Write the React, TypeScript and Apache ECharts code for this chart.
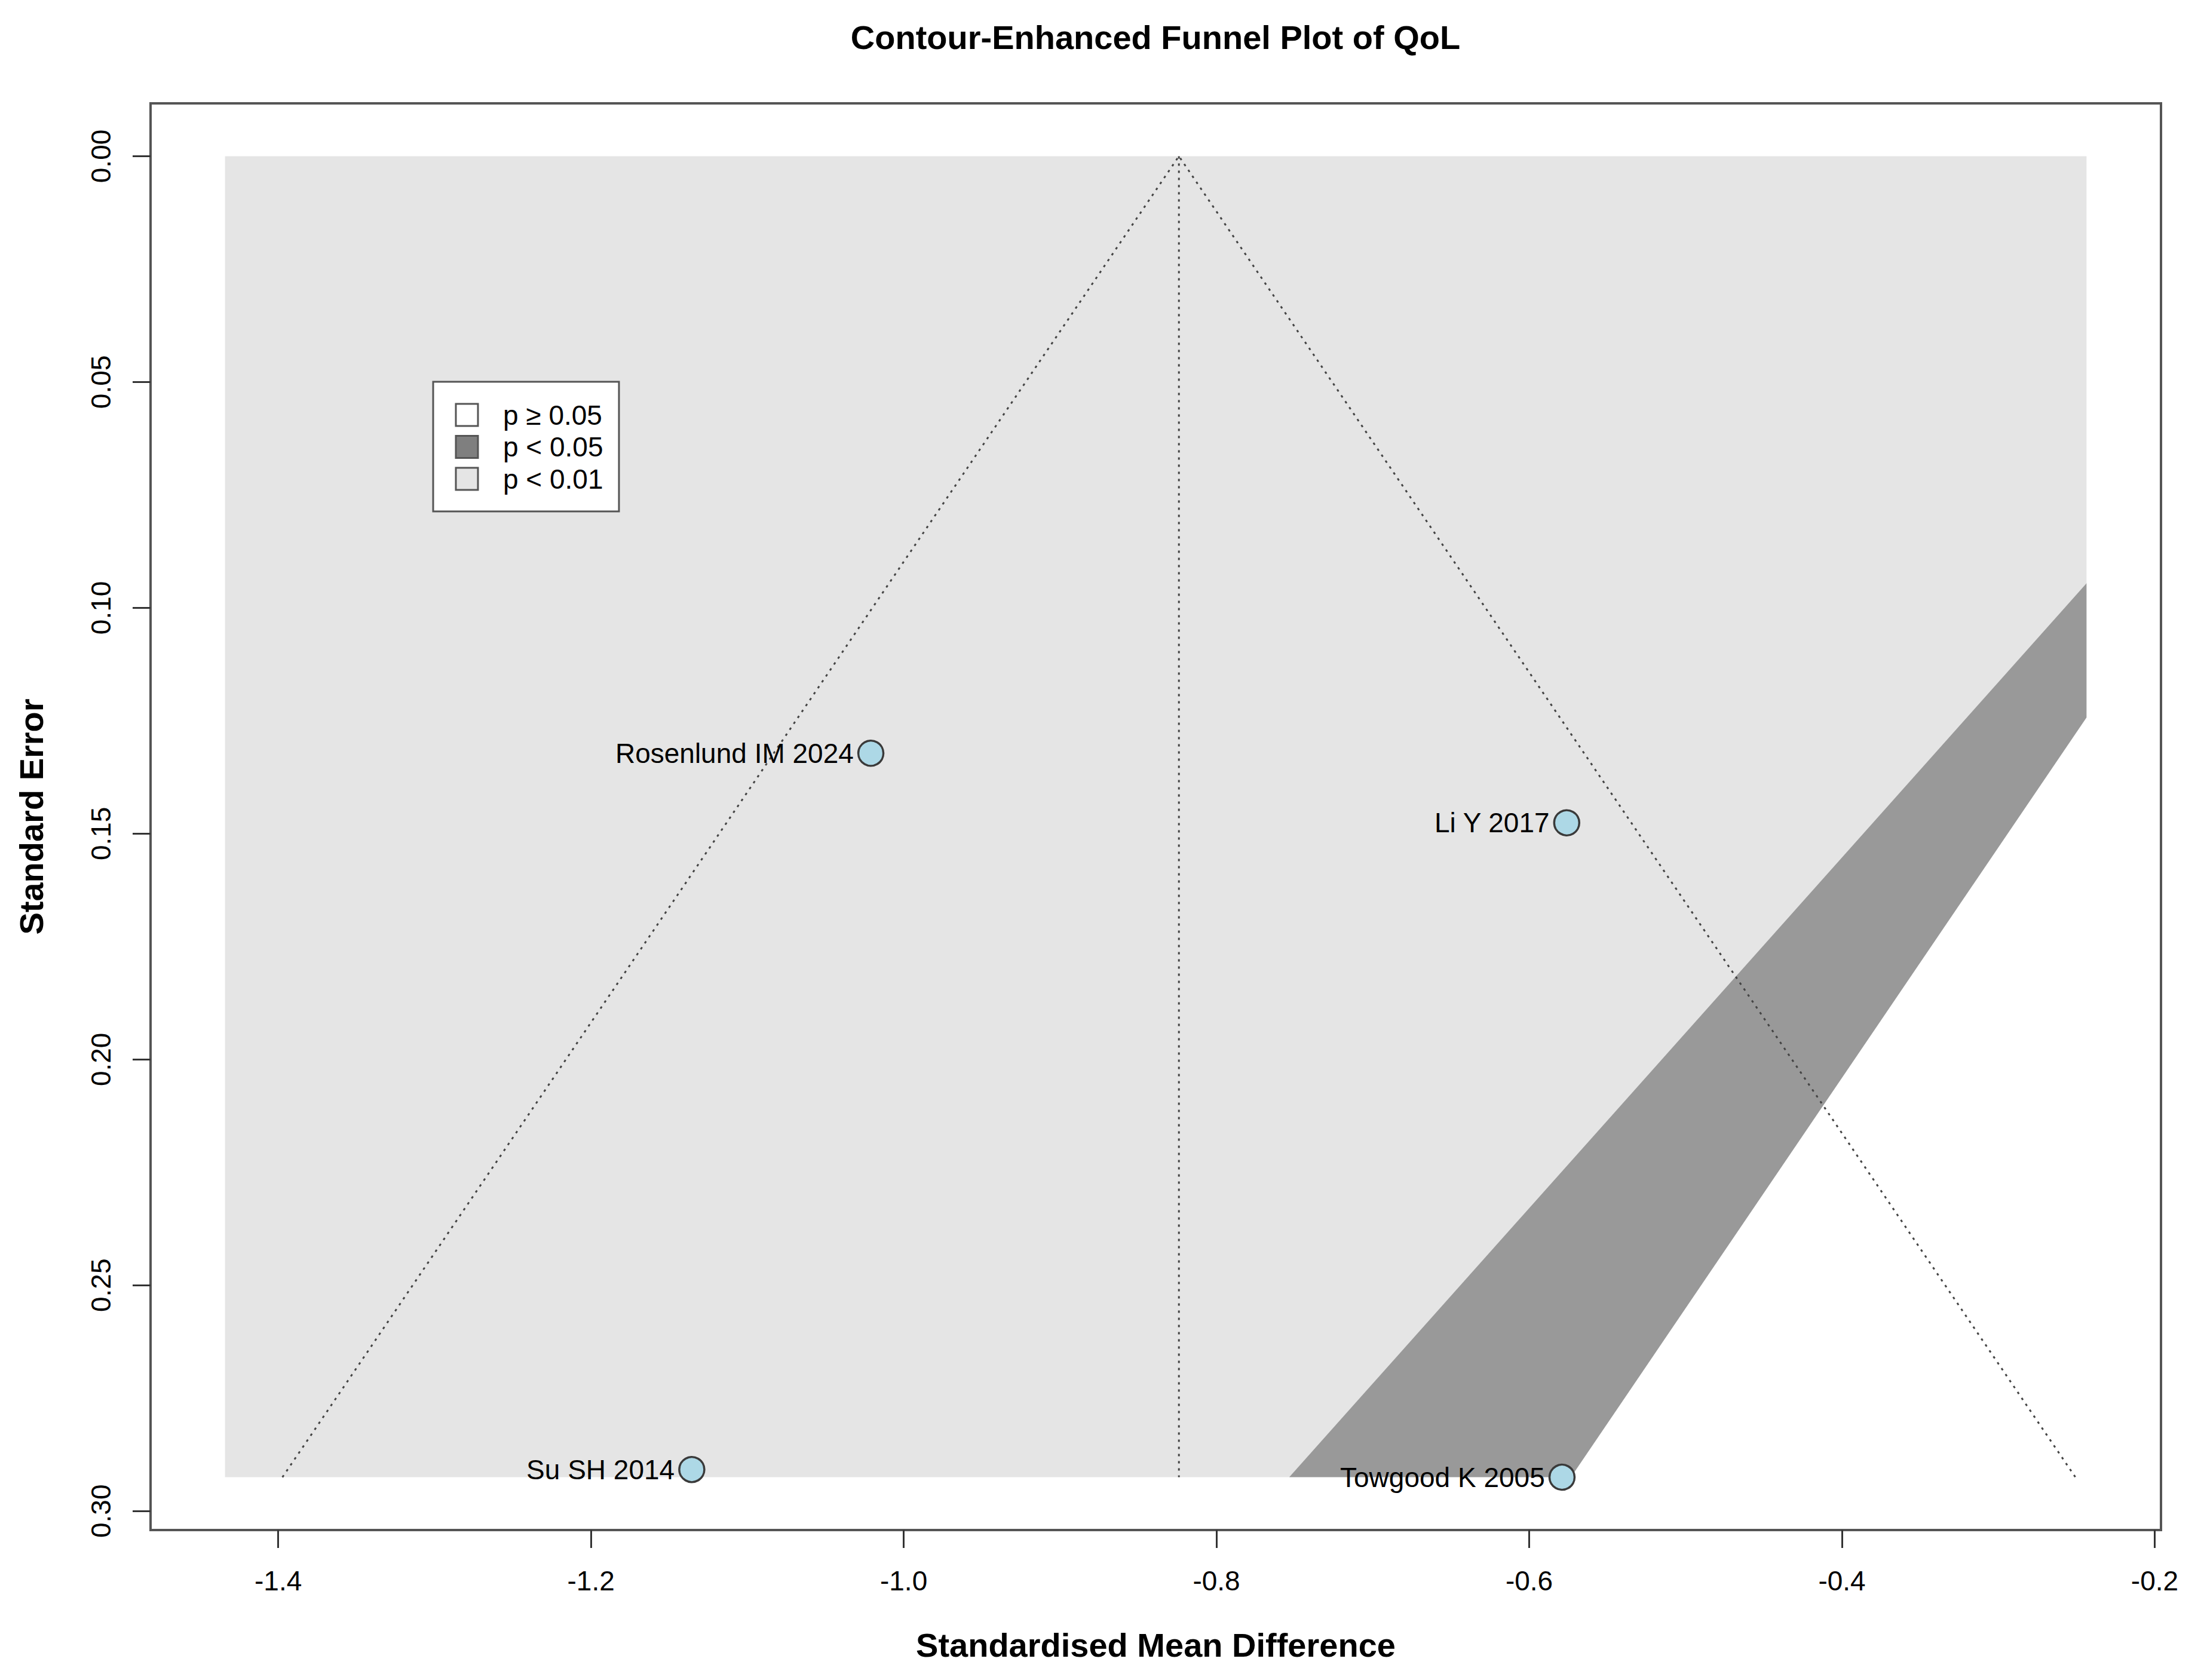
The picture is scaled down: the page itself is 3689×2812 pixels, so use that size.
import React, { useEffect, useRef } from "react";
import * as echarts from "echarts";

// ---- data ----
const studies = ["Rosenlund IM 2024", "Li Y 2017", "Su SH 2014", "Towgood K 2005"];
const smd = [-1.021, -0.576, -1.1355, -0.579];
const se = [0.1322, 0.1476, 0.2908, 0.2925];
const pooledEstimate = -0.824;
const funnelZ = 1.96;
const contourZ05 = 1.96;
const contourZ01 = 2.576;
const contourXRange = [-1.434, -0.2436];
const xTicks = [-1.4, -1.2, -1.0, -0.8, -0.6, -0.4, -0.2];
const yTicks = [0, 0.05, 0.1, 0.15, 0.2, 0.25, 0.3];
const legendLabels = ["p \u2265 0.05", "p < 0.05", "p < 0.01"];
const titleText = "Contour-Enhanced Funnel Plot of QoL";
const xLabel = "Standardised Mean Difference";
const yLabel = "Standard Error";

// ---- styles ----
const FONT = "'Liberation Sans', Arial, Helvetica, sans-serif";
const LIGHT = "#e5e5e5";
const DARK = "#999999";
const LEGEND_FILLS = ["#ffffff", "#7f7f7f", "#e5e5e5"];

type Pt = [number, number];

// clip polygon to half-plane a*x + b*y + c <= 0
function clip(poly: Pt[], a: number, b: number, c: number): Pt[] {
  const out: Pt[] = [];
  const f = (p: Pt) => a * p[0] + b * p[1] + c;
  for (let i = 0; i < poly.length; i++) {
    const p = poly[i];
    const q = poly[(i + 1) % poly.length];
    const fp = f(p);
    const fq = f(q);
    if (fp <= 0) out.push(p);
    if ((fp < 0 && fq > 0) || (fp > 0 && fq < 0)) {
      const t = fp / (fp - fq);
      out.push([p[0] + t * (q[0] - p[0]), p[1] + t * (q[1] - p[1])]);
    }
  }
  return out;
}

const seMax = Math.max(...se);
const rect: Pt[] = [
  [contourXRange[0], 0],
  [contourXRange[1], 0],
  [contourXRange[1], seMax],
  [contourXRange[0], seMax],
];

const regions: { fill: string; pts: Pt[] }[] = [
  { fill: LIGHT, pts: clip(rect, 1, contourZ01, 0) },
  { fill: LIGHT, pts: clip(rect, -1, contourZ01, 0) },
  { fill: DARK, pts: clip(clip(rect, 1, contourZ05, 0), -1, -contourZ01, 0) },
  { fill: DARK, pts: clip(clip(rect, -1, contourZ05, 0), 1, -contourZ01, 0) },
].filter((r) => r.pts.length >= 3);

// R-style 4% axis expansion
const xr = contourXRange[1] - contourXRange[0];
const xBox = [contourXRange[0] - 0.04 * xr, contourXRange[1] + 0.04 * xr];
const yBox = [0 - 0.04 * seMax, seMax + 0.04 * seMax];

// legend placement (pixels)
const LG_X = 725;
const LG_Y = 639;

export default function App() {
  const ref = useRef<HTMLDivElement>(null);
  useEffect(() => {
    if (!ref.current) return;
    const chart = echarts.init(ref.current, null, { renderer: "svg" });
    const legendElements: any[] = [
      {
        type: "rect",
        z: 100,
        shape: { x: LG_X, y: LG_Y, width: 311, height: 217 },
        style: { fill: "#fff", stroke: "#555", lineWidth: 3 },
      },
    ];
    legendLabels.forEach((lab, i) => {
      legendElements.push({
        type: "rect",
        z: 101,
        shape: { x: LG_X + 38, y: LG_Y + 37 + 53.5 * i, width: 37, height: 37 },
        style: { fill: LEGEND_FILLS[i], stroke: "#555", lineWidth: 3 },
      });
      legendElements.push({
        type: "text",
        z: 101,
        x: LG_X + 117,
        y: LG_Y + 55.5 + 53.5 * i,
        style: {
          text: lab,
          font: `46px ${FONT}`,
          fontFamily: FONT,
          fontSize: 46,
          fill: "#000",
          verticalAlign: "middle",
          align: "left",
        },
      });
    });
    const option: any = {
      animation: false,
      backgroundColor: "#ffffff",
      title: {
        text: titleText,
        left: 1934,
        top: 34,
        padding: 0,
        textAlign: "center",
        textStyle: { fontFamily: FONT, fontSize: 56, fontWeight: "bold", color: "#000" },
      },
      grid: {
        left: 252,
        top: 173,
        right: 3689 - 3617,
        bottom: 2812 - 2561,
        show: true,
        borderColor: "#555",
        borderWidth: 4,
        backgroundColor: "transparent",
        outerBoundsMode: "none",
      },
      xAxis: {
        type: "value",
        position: "bottom",
        min: xBox[0],
        max: xBox[1],
        name: xLabel,
        nameLocation: "middle",
        nameGap: 164,
        nameTextStyle: { fontFamily: FONT, fontSize: 56, fontWeight: "bold", color: "#000" },
        axisLine: { show: false, onZero: false },
        splitLine: { show: false },
        axisTick: { show: true, customValues: xTicks, length: 30, lineStyle: { color: "#333", width: 3 } },
        axisLabel: {
          customValues: xTicks,
          formatter: (v: number) => v.toFixed(1),
          margin: 62,
          fontFamily: FONT,
          fontSize: 46,
          color: "#000",
        },
      },
      yAxis: {
        type: "value",
        position: "left",
        inverse: true,
        min: yBox[0],
        max: yBox[1],
        name: yLabel,
        nameLocation: "middle",
        nameGap: 172,
        nameTextStyle: { fontFamily: FONT, fontSize: 56, fontWeight: "bold", color: "#000" },
        axisLine: { show: false, onZero: false },
        splitLine: { show: false },
        axisTick: { show: true, customValues: yTicks, length: 30, lineStyle: { color: "#333", width: 3 } },
        axisLabel: {
          customValues: yTicks,
          formatter: (v: number) => v.toFixed(2),
          rotate: 90,
          margin: 60,
          fontFamily: FONT,
          fontSize: 46,
          color: "#000",
        },
      },
      series: [
        {
          type: "custom",
          z: 1,
          silent: true,
          data: regions.map((r, i) => [r.pts[0][0], r.pts[0][1], i]),
          renderItem: (params: any, api: any) => {
            const reg = regions[params.dataIndex];
            return {
              type: "polygon",
              shape: { points: reg.pts.map((p) => api.coord(p)) },
              style: { fill: reg.fill, stroke: null },
            };
          },
        },
        {
          type: "line",
          z: 3,
          silent: true,
          symbol: "none",
          data: [
            [pooledEstimate - funnelZ * seMax, seMax],
            [pooledEstimate, 0],
            [pooledEstimate + funnelZ * seMax, seMax],
          ],
          lineStyle: { color: "#444", width: 3, type: [4, 8] },
        },
        {
          type: "line",
          z: 3,
          silent: true,
          symbol: "none",
          data: [
            [pooledEstimate, 0],
            [pooledEstimate, seMax],
          ],
          lineStyle: { color: "#444", width: 3, type: [4, 8] },
        },
        {
          type: "scatter",
          z: 5,
          symbol: "circle",
          symbolSize: 42,
          data: studies.map((s, i) => ({ name: s, value: [smd[i], se[i]] })),
          itemStyle: { color: "#add8e6", borderColor: "#3a3a3a", borderWidth: 3.5, opacity: 1 },
          label: {
            show: true,
            position: "left",
            distance: 6,
            formatter: (p: any) => p.name,
            fontFamily: FONT,
            fontSize: 46,
            color: "#000",
          },
        },
      ],
      graphic: { elements: legendElements },
    };
    chart.setOption(option);
    return () => chart.dispose();
  }, []);
  return (
    <div
      ref={ref}
      style={{ position: "fixed", left: 0, top: 0, width: 3689, height: 2812, background: "#fff" }}
    />
  );
}
